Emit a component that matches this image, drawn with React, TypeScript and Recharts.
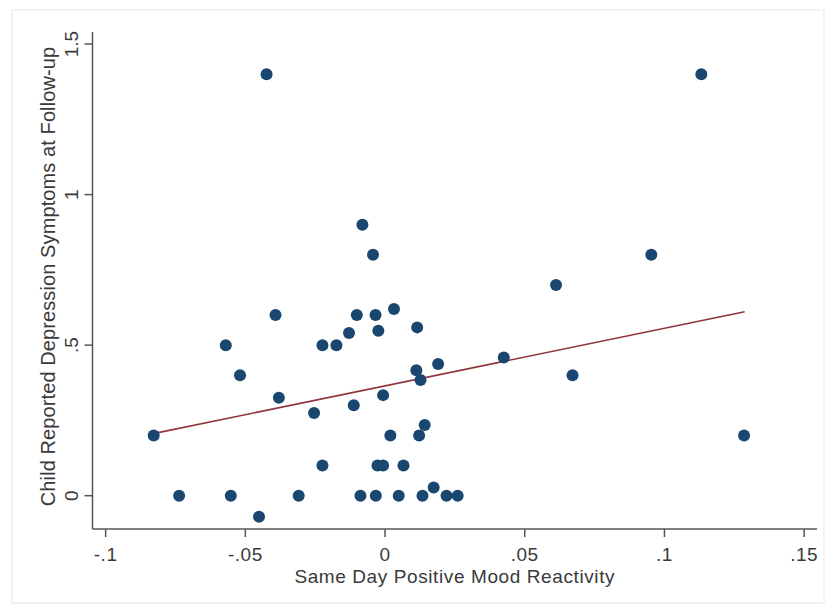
import { Label, Scatter, ScatterChart, XAxis, YAxis } from 'recharts'

// positive mood reactivity (x) and depression symptoms (y), one entry per child
const reactivity = [
  -0.0828, -0.0737, -0.057, -0.0552, -0.0519, -0.0451, -0.0424, -0.0392, -0.038,
  -0.0309, -0.0254, -0.0224, -0.0224, -0.0174, -0.0129, -0.0112, -0.0101,
  -0.0088, -0.0081, -0.0043, -0.0034, -0.0033, -0.0024, -0.0027, -0.0007,
  -0.0007, 0.0019, 0.0032, 0.0049, 0.0066, 0.0115, 0.0112, 0.0127, 0.0122,
  0.0142, 0.0134, 0.0174, 0.019, 0.022, 0.026, 0.0425, 0.0612, 0.0671, 0.0953,
  0.1132, 0.1285,
]
const symptoms = [
  0.2, 0, 0.5, 0, 0.4, -0.07, 1.4, 0.6, 0.325, 0, 0.275, 0.5, 0.1, 0.5, 0.54,
  0.3, 0.6, 0, 0.9, 0.8, 0.6, 0, 0.548, 0.1, 0.334, 0.1, 0.2, 0.62, 0, 0.1,
  0.559, 0.417, 0.384, 0.2, 0.235, 0, 0.027, 0.437, 0, 0, 0.459, 0.7, 0.4,
  0.8, 1.4, 0.2,
]

// fitted line endpoints
const fitX = [-0.0825, 0.1287]
const fitY = [0.207, 0.611]

const xTicks = [-0.1, -0.05, 0, 0.05, 0.1, 0.15]
const yTicks = [0, 0.5, 1, 1.5]

const points = reactivity.map((x, i) => ({ x, y: symptoms[i] }))
const fitLine = fitX.map((x, i) => ({ x, y: fitY[i] }))

const NAVY = '#1a476f'
const MAROON = '#90353b'
const AXIS = '#555555'
const TEXT = '#3a3a3a'
const FONT = '"Liberation Sans", Arial, sans-serif'

// stata style: drop the leading zero
function fmt(v: number) {
  return String(v).replace(/^(-?)0\./, '$1.')
}

function XTick({ x, y, payload }: any) {
  return (
    <text
      x={x}
      y={y}
      dy={22}
      textAnchor='middle'
      fontSize={19}
      fill={TEXT}
      fontFamily={FONT}
      letterSpacing={0.5}
    >
      {fmt(payload.value)}
    </text>
  )
}

function YTick({ x, y, payload }: any) {
  const tx = x - 4
  return (
    <text
      x={tx}
      y={y}
      textAnchor='middle'
      fontSize={19}
      fill={TEXT}
      fontFamily={FONT}
      transform={`rotate(-90, ${tx}, ${y})`}
    >
      {fmt(payload.value)}
    </text>
  )
}

function YTitle({ viewBox }: any) {
  const bx = 55
  const cy = viewBox.y + viewBox.height / 2 - 4
  return (
    <text
      x={bx}
      y={cy}
      textAnchor='middle'
      fontSize={20}
      fill={TEXT}
      fontFamily={FONT}
      letterSpacing={0.1}
      transform={`rotate(-90, ${bx}, ${cy})`}
    >
      Child Reported Depression Symptoms at Follow-up
    </text>
  )
}

function Dot({ cx, cy }: any) {
  return <circle cx={cx} cy={cy} r={6} fill={NAVY} />
}

export default function App() {
  return (
    <div style={{ position: 'relative', width: 825, height: 607, background: '#fff' }}>
      <style>{'body{margin:0}'}</style>
      <div
        style={{
          position: 'absolute',
          left: 11,
          top: 9,
          width: 810,
          height: 591,
          border: '2px solid #f2f2f2',
        }}
      />
      <ScatterChart
        width={825}
        height={607}
        margin={{ top: 32, right: 8, bottom: 0, left: 0 }}
        style={{ position: 'absolute', left: 0, top: 0 }}
      >
        <XAxis
          type='number'
          dataKey='x'
          domain={[-0.1047, 0.1546]}
          ticks={xTicks}
          allowDataOverflow
          height={78}
          tickSize={8}
          stroke={AXIS}
          strokeWidth={1.5}
          tick={<XTick />}
        >
          <Label
            value='Same Day Positive Mood Reactivity'
            position='insideBottom'
            offset={24}
            fontSize={19}
            fill={TEXT}
            fontFamily={FONT}
            letterSpacing={0.6}
          />
        </XAxis>
        <YAxis
          type='number'
          dataKey='y'
          domain={[-0.1106, 1.54]}
          ticks={yTicks}
          allowDataOverflow
          width={92.5}
          tickSize={8}
          stroke={AXIS}
          strokeWidth={1.5}
          tick={<YTick />}
        >
          <Label content={<YTitle />} />
        </YAxis>
        <Scatter
          data={fitLine}
          line={{ stroke: MAROON, strokeWidth: 1.6 }}
          shape={() => <g />}
          isAnimationActive={false}
        />
        <Scatter data={points} shape={<Dot />} isAnimationActive={false} />
      </ScatterChart>
    </div>
  )
}
